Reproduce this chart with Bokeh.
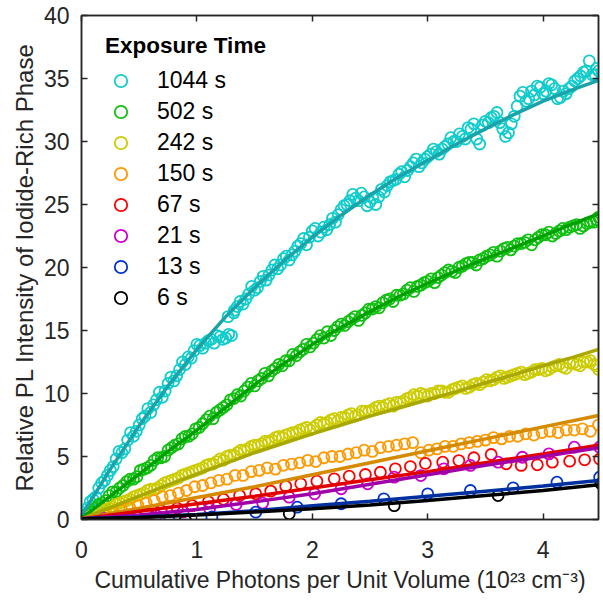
from bokeh.plotting import figure
from bokeh.models import Range1d, LinearAxis, Legend, LegendItem, FixedTicker, CustomJSTickFormatter
from bokeh.embed import file_html
from bokeh.resources import INLINE

# ---------------- data ----------------
names = ["1044 s", "502 s", "242 s", "150 s", "67 s", "21 s", "13 s", "6 s"]
marker_colors = ["#11CCCC", "#10C010", "#CCCC00", "#FF9900", "#FF0000", "#CC00CC", "#0033CC", "#000000"]
line_colors = ["#1AA3A8", "#00A000", "#A8A800", "#D68A00", "#E00000", "#A000A8", "#0030A0", "#000000"]

x_1044 = [0.00, 0.05, 0.10, 0.15, 0.20, 0.25, 0.30, 0.35, 0.40, 0.45, 0.50, 0.55, 0.60, 0.65, 0.70,
          0.75, 0.80, 0.85, 0.90, 0.95, 1.00, 1.05, 1.10, 1.15, 1.20, 1.25, 1.27, 1.30, 1.32, 1.35,
          1.40, 1.45, 1.50, 1.55, 1.60, 1.65, 1.70, 1.75, 1.80, 1.85, 1.90, 1.95, 2.00, 2.05, 2.10,
          2.15, 2.20, 2.25, 2.30, 2.35, 2.40, 2.45, 2.50, 2.55, 2.60, 2.65, 2.70, 2.75, 2.80, 2.85,
          2.90, 2.95, 3.00, 3.05, 3.10, 3.15, 3.20, 3.25, 3.30, 3.35, 3.40, 3.45, 3.50, 3.55, 3.60,
          3.65, 3.70, 3.75, 3.80, 3.85, 3.90, 3.95, 4.00, 4.05, 4.10, 4.15, 4.20, 4.25, 4.30, 4.35,
          4.40, 4.45, 4.48,
          0.025, 0.075, 0.125, 0.175, 0.225, 0.275, 0.325, 0.375, 0.425, 0.475,
          0.525, 0.575, 0.625, 0.675, 0.725, 0.775, 0.825, 0.875, 0.925, 0.975,
          1.025, 1.075, 1.125, 1.175, 1.225, 1.275, 1.325, 1.375, 1.425, 1.475,
          1.525, 1.575, 1.625, 1.675, 1.725, 1.775, 1.825, 1.875, 1.925, 1.975,
          2.025, 2.075, 2.125, 2.175, 2.225, 2.275, 2.325, 2.375, 2.425, 2.475,
          2.525, 2.575, 2.625, 2.675, 2.725, 2.775, 2.825, 2.875, 2.925, 2.975,
          3.025, 3.075, 3.125, 3.175, 3.225, 3.275, 3.325, 3.375, 3.425, 3.475,
          3.525, 3.575, 3.625, 3.675, 3.725, 3.775, 3.825, 3.875, 3.925, 3.975,
          4.025, 4.075, 4.125, 4.175, 4.225, 4.275, 4.325, 4.375, 4.425, 4.465]
y_1044 = [0.6, 0.9, 1.6, 2.5, 3.1, 3.9, 4.8, 5.3, 6.3, 6.6, 7.5, 8.2, 8.5, 9.5, 9.7,
          10.8, 11.0, 11.9, 12.3, 12.8, 13.9, 13.6, 14.2, 14.0, 14.5, 14.4, 16.1, 14.6, 16.4, 16.9,
          17.1, 17.9, 18.2, 18.9, 19.0, 19.8, 19.9, 20.7, 20.6, 21.3, 21.9, 21.8, 22.9, 22.5, 23.2,
          23.4, 23.6, 24.6, 25.0, 25.8, 25.3, 25.6, 25.2, 25.0, 26.2, 26.5, 26.9, 27.4, 27.2, 28.0,
          28.6, 28.3, 28.8, 29.4, 29.0, 29.6, 30.3, 30.0, 30.4, 31.1, 31.4, 29.8, 31.6, 31.9, 32.3,
          31.0, 30.7, 32.0, 33.6, 33.2, 34.0, 34.4, 33.8, 34.6, 34.2, 33.5, 33.8, 34.4, 35.0, 35.5,
          36.4, 35.3, 35.6,
          0.4, 1.4, 1.8, 2.9, 3.5, 4.2, 5.4, 5.6, 6.9, 7.0,
          8.0, 8.8, 9.1, 10.1, 10.2, 11.3, 11.4, 12.5, 12.9, 13.4,
          13.8, 14.0, 14.3, 14.6, 14.3, 14.7, 16.6, 17.3, 17.5, 18.5,
          18.4, 19.3, 19.4, 20.2, 20.2, 20.9, 21.0, 21.7, 22.3, 22.4,
          23.1, 22.8, 23.0, 23.9, 24.2, 24.9, 25.3, 25.5, 25.9, 24.9,
          25.5, 25.6, 26.0, 26.8, 27.0, 27.6, 27.7, 28.3, 28.0, 28.6,
          29.0, 29.2, 29.4, 29.8, 30.0, 30.6, 30.2, 31.0, 30.2, 31.3,
          31.5, 32.0, 31.5, 30.4, 31.4, 32.8, 33.9, 33.4, 33.7, 34.3,
          34.0, 34.5, 33.4, 34.0, 34.2, 34.8, 35.2, 35.6, 35.3, 35.8]

x_502 = [0.00, 0.06, 0.12, 0.18, 0.24, 0.30, 0.36, 0.42, 0.48, 0.54, 0.60, 0.66, 0.72, 0.78, 0.84,
         0.90, 0.96, 1.02, 1.08, 1.14, 1.20, 1.26, 1.32, 1.38, 1.44, 1.50, 1.56, 1.62, 1.68, 1.74,
         1.80, 1.86, 1.92, 1.98, 2.04, 2.10, 2.16, 2.22, 2.28, 2.34, 2.40, 2.46, 2.52, 2.58, 2.64,
         2.70, 2.76, 2.82, 2.88, 2.94, 3.00, 3.06, 3.12, 3.18, 3.24, 3.30, 3.36, 3.42, 3.48, 3.54,
         3.60, 3.66, 3.72, 3.78, 3.84, 3.90, 3.96, 4.02, 4.08, 4.14, 4.20, 4.26, 4.32, 4.38, 4.44,
         4.48,
         0.03, 0.09, 0.15, 0.21, 0.27, 0.33, 0.39, 0.45, 0.51, 0.57, 0.63, 0.69, 0.75, 0.81, 0.87,
         0.93, 0.99, 1.05, 1.11, 1.17, 1.23, 1.29, 1.35, 1.41, 1.47, 1.53, 1.59, 1.65, 1.71, 1.77,
         1.83, 1.89, 1.95, 2.01, 2.07, 2.13, 2.19, 2.25, 2.31, 2.37, 2.43, 2.49, 2.55, 2.61, 2.67,
         2.73, 2.79, 2.85, 2.91, 2.97, 3.03, 3.09, 3.15, 3.21, 3.27, 3.33, 3.39, 3.45, 3.51, 3.57,
         3.63, 3.69, 3.75, 3.81, 3.87, 3.93, 3.99, 4.05, 4.11, 4.17, 4.23, 4.29, 4.35, 4.41, 4.46]
y_502 = [0.1, 0.4, 0.9, 1.3, 1.9, 2.2, 2.7, 3.2, 3.4, 4.0, 4.3, 4.9, 5.0, 5.7, 6.0,
         6.6, 6.8, 7.3, 7.9, 8.0, 8.7, 9.1, 9.6, 9.8, 10.5, 10.6, 11.2, 11.4, 12.0, 12.2,
         12.6, 13.0, 13.5, 13.7, 14.3, 14.4, 14.6, 15.3, 15.4, 15.9, 15.8, 16.4, 16.7, 16.8, 17.4,
         17.3, 17.8, 18.2, 18.1, 18.6, 18.9, 18.8, 19.4, 19.8, 19.6, 20.1, 20.4, 20.2, 20.7, 21.0,
         20.9, 21.5, 21.4, 21.9, 22.0, 21.8, 22.4, 22.6, 22.5, 22.9, 23.0, 23.3, 23.1, 23.5, 23.6,
         24.0,
         0.3, 0.6, 1.2, 1.5, 2.2, 2.5, 3.0, 3.2, 3.9, 4.1, 4.7, 4.9, 5.5, 5.9, 6.4,
         6.6, 7.2, 7.6, 8.2, 8.5, 8.9, 9.5, 9.9, 10.2, 10.8, 11.0, 11.6, 11.8, 12.3, 12.6,
         13.1, 13.3, 13.9, 14.0, 14.6, 14.9, 15.0, 15.5, 15.7, 16.1, 16.2, 16.7, 16.9, 17.2, 17.5,
         17.8, 17.9, 18.4, 18.5, 18.8, 19.1, 19.2, 19.6, 19.7, 20.0, 20.3, 20.4, 20.6, 20.9, 21.2,
         21.3, 21.6, 21.7, 21.9, 22.2, 22.2, 22.6, 22.8, 22.7, 23.1, 23.2, 23.4, 23.3, 23.6, 23.8]

x_242 = x_502
y_242 = [0.0, 0.2, 0.4, 0.7, 0.9, 1.2, 1.4, 1.6, 1.9, 2.1, 2.4, 2.5, 2.9, 3.1, 3.3,
         3.6, 3.8, 4.0, 4.3, 4.4, 4.8, 5.0, 5.1, 5.5, 5.6, 5.9, 6.0, 6.2, 6.5, 6.5,
         6.8, 6.9, 7.2, 7.1, 7.5, 7.6, 7.9, 7.8, 8.1, 8.4, 8.3, 8.6, 8.7, 9.0, 9.1,
         9.0, 9.3, 9.6, 9.9, 10.0, 9.8, 10.0, 10.2, 10.1, 10.4, 10.6, 10.5, 10.8, 10.9, 11.0,
         11.3, 11.2, 11.4, 11.6, 11.5, 11.7, 11.9, 11.8, 12.1, 12.3, 12.0, 12.4, 12.2, 12.5, 12.3,
         11.9,
         0.1, 0.3, 0.5, 0.8, 1.0, 1.3, 1.5, 1.8, 2.0, 2.3, 2.4, 2.7, 3.0, 3.2, 3.5,
         3.7, 3.9, 4.1, 4.4, 4.6, 4.7, 5.1, 5.3, 5.5, 5.8, 5.9, 6.2, 6.3, 6.6, 6.7,
         6.9, 7.1, 7.3, 7.3, 7.7, 7.7, 8.0, 8.1, 8.3, 8.2, 8.6, 8.6, 8.9, 8.9, 9.2,
         9.3, 9.4, 9.7, 9.8, 9.9, 10.0, 10.2, 10.1, 10.3, 10.5, 10.4, 10.7, 10.7, 11.1, 11.1,
         11.4, 11.3, 11.5, 11.7, 11.6, 11.9, 12.0, 11.9, 12.2, 12.1, 12.4, 12.3, 12.5, 12.6, 12.2]

x_150 = [0.00, 0.07, 0.14, 0.21, 0.28, 0.35, 0.42, 0.49, 0.56, 0.63, 0.70, 0.77, 0.84, 0.91, 0.98,
         1.05, 1.12, 1.19, 1.26, 1.33, 1.40, 1.47, 1.54, 1.61, 1.68, 1.75, 1.82, 1.89, 1.96, 2.03,
         2.10, 2.17, 2.24, 2.31, 2.38, 2.45, 2.52, 2.59, 2.66, 2.73, 2.80, 2.87, 2.94, 3.01, 3.08,
         3.15, 3.22, 3.29, 3.36, 3.43, 3.50, 3.57, 3.64, 3.71, 3.78, 3.85, 3.92, 3.99, 4.06, 4.13,
         4.20, 4.27, 4.34, 4.41, 4.48]
y_150 = [0.0, 0.0, 0.1, 0.3, 0.5, 0.7, 0.9, 1.1, 1.3, 1.5, 1.8, 1.9, 2.1, 2.3, 2.6,
         2.7, 2.9, 3.1, 3.2, 3.5, 3.5, 3.8, 3.9, 4.1, 4.0, 4.3, 4.4, 4.5, 4.7, 4.6,
         4.9, 5.0, 5.0, 5.2, 5.3, 5.5, 5.4, 5.7, 5.8, 5.9, 6.0, 6.1, 5.3, 5.5, 5.6,
         5.8, 5.8, 6.0, 6.1, 6.2, 6.3, 6.5, 6.4, 6.6, 6.6, 6.8, 6.7, 6.9, 7.0, 6.9,
         7.1, 7.1, 7.2, 7.0, 7.5]

x_67 = [0.02, 0.15, 0.29, 0.42, 0.56, 0.69, 0.83, 0.96, 1.10, 1.23, 1.37, 1.51, 1.64, 1.77, 1.90,
        2.04, 2.19, 2.32, 2.46, 2.59, 2.72, 2.85, 2.98, 3.13, 3.27, 3.40, 3.55, 3.68, 3.81, 3.95,
        4.08, 4.23, 4.36, 4.49]
y_67 = [0.0, -0.1, 0.05, 0.2, 0.45, 0.7, 0.9, 1.1, 1.4, 1.6, 1.9, 2.04, 2.25, 2.64, 2.83,
        3.04, 3.23, 3.44, 3.57, 3.75, 4.02, 4.2, 4.45, 4.55, 4.68, 4.9, 5.16, 4.42, 4.29, 4.34,
        4.55, 4.63, 4.74, 4.8]

x_21 = [0.04, 0.19, 0.42, 0.65, 0.88, 1.11, 1.34, 1.57, 1.80, 2.02, 2.25, 2.48, 2.71, 2.94, 3.14,
        3.37, 3.61, 3.82, 4.05, 4.27, 4.49]
y_21 = [0.0, 0.1, 0.0, 0.3, 0.6, 0.85, 1.2, 1.3, 1.77, 2.04, 2.44, 2.83, 3.36, 3.49, 4.02,
        4.29, 4.55, 4.94, 5.21, 5.74, 5.74]

x_13 = [0.02, 0.39, 0.76, 1.13, 1.51, 1.87, 2.25, 2.62, 3.00, 3.37, 3.74, 4.12, 4.49]
y_13 = [0.0, -0.1, -0.1, 0.2, 0.58, 0.98, 1.25, 1.64, 2.04, 2.30, 2.51, 2.96, 3.36]

x_6 = [0.0, 0.9, 1.8, 2.71, 3.61, 4.5]
y_6 = [0.0, -0.05, 0.45, 1.1, 1.9, 2.85]

# fitted curves
fit_x_fine = [0, 0.25, 0.5, 0.75, 1.0, 1.25, 1.5, 1.75, 2.0, 2.25, 2.5, 2.75, 3.0, 3.25, 3.5,
              3.75, 4.0, 4.25, 4.48]
fit_1044 = [0.3, 4.0, 7.45, 10.6, 13.5, 16.1, 18.4, 20.5, 22.4, 24.15, 25.75, 27.2, 28.5, 29.8, 31.0,
            32.15, 33.2, 34.1, 34.85]
fit_502 = [0.1, 1.85, 3.6, 5.4, 7.1, 8.9, 10.7, 12.35, 13.9, 15.25, 16.5, 17.7, 18.75, 19.75, 20.7,
           21.6, 22.5, 23.45, 24.25]
fit_242 = [0.05, 0.95, 1.85, 2.75, 3.6, 4.45, 5.3, 6.05, 6.8, 7.5, 8.2, 8.85, 9.5, 10.15, 10.85,
           11.5, 12.2, 12.85, 13.5]
fit_x_coarse = [0, 0.5, 1.0, 1.5, 2.0, 2.5, 3.0, 3.5, 4.0, 4.48]
fit_150 = [0.05, 0.9, 1.75, 2.6, 3.55, 4.5, 5.45, 6.4, 7.35, 8.25]
fit_67 = [0.05, 0.65, 1.25, 1.85, 2.5, 3.15, 3.8, 4.5, 5.2, 5.9]
fit_21 = [0.05, 0.35, 0.8, 1.4, 2.05, 2.8, 3.55, 4.3, 5.0, 5.7]
fit_13 = [0.05, 0.2, 0.4, 0.7, 1.1, 1.45, 1.85, 2.25, 2.65, 3.1]
fit_6 = [0.05, 0.15, 0.35, 0.6, 0.85, 1.15, 1.5, 1.9, 2.3, 2.75]

x_ticks = [0, 1, 2, 3, 4]
y_ticks = [0, 5, 10, 15, 20, 25, 30, 35, 40]

x_title = "Cumulative Photons per Unit Volume (10\u00b2\u00b3 cm\u207b\u00b3)"
y_title = "Relative PL Intensity of Iodide-Rich Phase"
legend_title = "Exposure Time"

scatter_x = [x_1044, x_502, x_242, x_150, x_67, x_21, x_13, x_6]
scatter_y = [y_1044, y_502, y_242, y_150, y_67, y_21, y_13, y_6]
fit_xs = [fit_x_fine, fit_x_fine, fit_x_fine, fit_x_coarse, fit_x_coarse, fit_x_coarse, fit_x_coarse, fit_x_coarse]
fit_ys = [fit_1044, fit_502, fit_242, fit_150, fit_67, fit_21, fit_13, fit_6]

# ---------------- figure ----------------
FONT = "Liberation Sans"
AXC = "#262626"

p = figure(width=603, height=603, output_backend="svg", toolbar_location=None,
           x_range=Range1d(0, 4.48), y_range=Range1d(0, 40),
           min_border_left=81, min_border_right=5, min_border_top=15, min_border_bottom=84)
p.grid.visible = False
p.outline_line_color = AXC
p.outline_line_width = 1.5
p.background_fill_color = "white"
p.border_fill_color = "white"


def style_axis(ax, ticks, show):
    ax.ticker = FixedTicker(ticks=ticks)
    ax.major_tick_in = 6
    ax.major_tick_out = 0
    ax.minor_tick_line_color = None
    ax.axis_line_color = AXC
    ax.axis_line_width = 1.5
    ax.major_tick_line_color = AXC
    ax.major_tick_line_width = 1.5
    ax.major_label_text_font = FONT
    ax.major_label_text_font_size = "23px"
    ax.major_label_text_color = AXC
    ax.axis_label_text_font = FONT
    ax.axis_label_text_font_style = "normal"
    ax.axis_label_text_color = AXC
    if not show:
        ax.formatter = CustomJSTickFormatter(code="return ''")
        ax.major_label_text_font_size = "0px"
        ax.major_label_standoff = 0


xa = p.xaxis[0]
style_axis(xa, x_ticks, True)
xa.major_label_standoff = 21
xa.axis_label = x_title
xa.axis_label_text_font_size = "23px"
xa.axis_label_standoff = 6

ya = p.yaxis[0]
style_axis(ya, y_ticks, True)
ya.major_label_standoff = 12
ya.axis_label = y_title
ya.axis_label_text_font_size = "24px"
ya.axis_label_standoff = 3

top_ax = LinearAxis()
style_axis(top_ax, x_ticks, False)
p.add_layout(top_ax, "above")
right_ax = LinearAxis()
style_axis(right_ax, y_ticks, False)
p.add_layout(right_ax, "right")

scatter_renderers = []
for xs, ys, c in zip(scatter_x, scatter_y, marker_colors):
    r = p.scatter(xs, ys, marker="circle", size=11, fill_color=None, line_color=c, line_width=1.8)
    scatter_renderers.append(r)

for xs, ys, c in zip(fit_xs, fit_ys, line_colors):
    p.line(xs, ys, line_color=c, line_width=3.5)

items = [LegendItem(label=n, renderers=[r]) for n, r in zip(names, scatter_renderers)]
leg = Legend(items=items, location=(24, 206), title=legend_title,
             border_line_color=None, background_fill_alpha=0,
             padding=0, margin=0, spacing=0,
             glyph_width=31, glyph_height=31, label_height=31, label_standoff=21,
             label_text_font=FONT, label_text_font_size="23px", label_text_color="#000000",
             title_text_font=FONT, title_text_font_size="22.5px", title_text_font_style="bold",
             title_text_color="#000000", title_standoff=6)
p.add_layout(leg)

open("out.html", "w").write(file_html(p, INLINE))
